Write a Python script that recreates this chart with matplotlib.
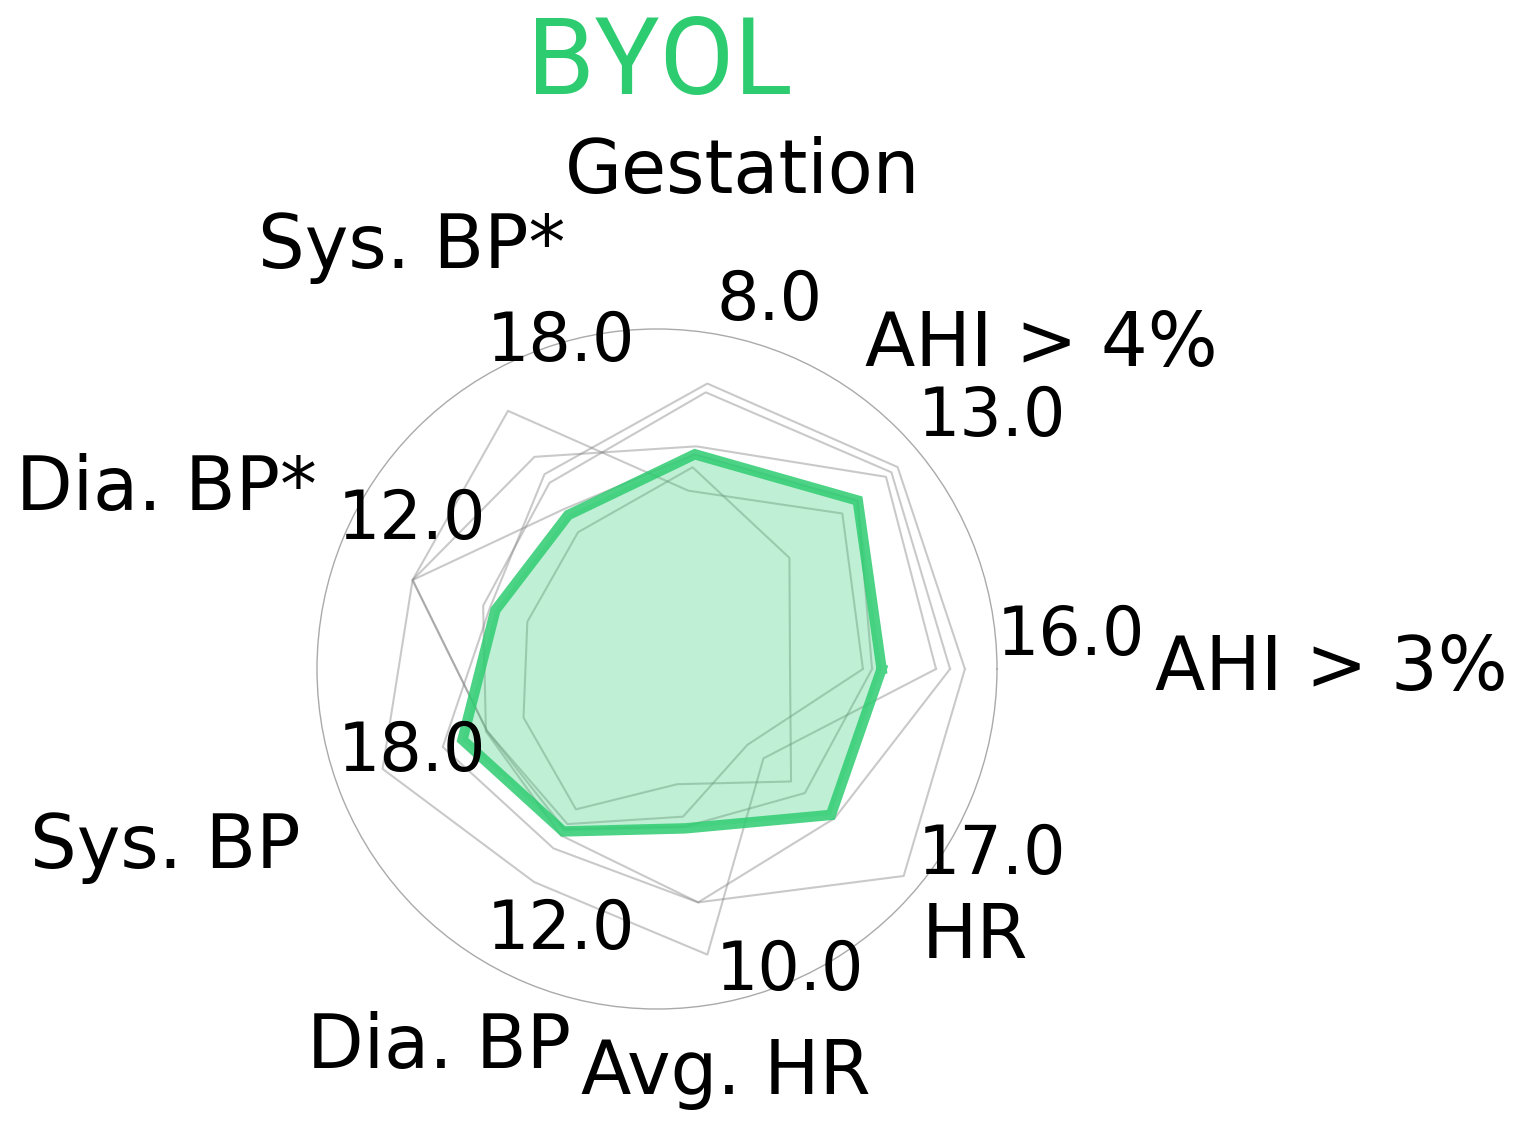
import numpy as np
import matplotlib
matplotlib.use("Agg")
import matplotlib.pyplot as plt

# ---------------- data ----------------
categories = ['AHI > 3%', 'AHI > 4%', 'Gestation', 'Sys. BP*', 'Dia. BP*',
              'Sys. BP', 'Dia. BP', 'Avg. HR', 'HR']
axis_max = [16.0, 13.0, 8.0, 18.0, 12.0, 18.0, 12.0, 10.0, 17.0]
tick_labels = ['16.0', '13.0', '8.0', '18.0', '12.0', '18.0', '12.0', '10.0', '17.0']

byol = [10.57, 10.02, 5.13, 9.41, 6.07, 10.96, 6.62, 4.76, 11.35]
other_a = [14.49, 12.01, 6.82, 11.91, 6.28, 12.07, 7.31, 6.97, 16.10]
other_b = [13.79, 11.70, 6.61, 11.38, 6.53, 9.64, 6.78, 6.97, 11.60]
other_c = [13.13, 11.43, 5.32, 12.97, 9.18, 15.46, 8.68, 8.53, 6.95]
other_d = [9.69, 9.25, 4.26, 15.78, 9.18, 9.58, 6.32, 4.41, 5.90]
other_e = [6.26, 6.61, 4.82, 8.36, 4.87, 7.52, 5.72, 3.44, 8.75]
other_f = [10.12, 10.02, 5.13, 9.79, 9.18, 9.58, 6.53, 4.71, 9.65]
others = [other_a, other_b, other_c, other_d, other_e, other_f]

title = 'BYOL'
green = '#2ecc71'

# ---------------- figure ----------------
W, H = 1523, 1125
fig = plt.figure(figsize=(W / 100, H / 100), dpi=100)
cx, cy, R = 657, 669, 340
ax = fig.add_axes([(cx - R) / W, 1 - (cy + R) / H, 2 * R / W, 2 * R / H],
                  projection='polar')

n = len(categories)
angles = np.deg2rad(np.arange(n) * 360.0 / n)
ang_closed = np.concatenate([angles, angles[:1]])
maxv = np.array(axis_max)


def norm(vals):
    v = np.array(vals) / maxv
    return np.concatenate([v, v[:1]])


for o in others:
    ax.plot(ang_closed, norm(o), color='gray', alpha=0.42, lw=1.5, zorder=2)

ax.fill(ang_closed, norm(byol), color=green, alpha=0.3, lw=0, zorder=3)
ax.plot(ang_closed, norm(byol), color=green, alpha=0.85, lw=7.5,
        solid_joinstyle='miter', zorder=4)

ax.set_ylim(0, 1)
ax.set_xticks([])
ax.set_yticks([])
ax.grid(False)
ax.spines['polar'].set_color('#aaaaaa')
ax.spines['polar'].set_linewidth(1.0)

# max-value tick labels at the outer circle
for a, t in zip(angles, tick_labels):
    ax.text(a, 1.0, t, ha='left', va='bottom', fontsize=48,
            family='DejaVu Sans', zorder=5)

# axis labels (pixel positions: centre x, baseline y)
label_pos = {
    'AHI > 3%': (1331, 690),
    'AHI > 4%': (1041, 366),
    'Gestation': (743, 193),
    'Sys. BP*': (412, 268),
    'Dia. BP*': (166, 510),
    'Sys. BP': (165, 868),
    'Dia. BP': (439, 1068),
    'Avg. HR': (726, 1094),
    'HR': (975, 958),
}
for c in categories:
    x, y = label_pos[c]
    fig.text(x / W, 1 - y / H, c, ha='center', va='baseline', fontsize=53,
             family='DejaVu Sans')

fig.text(660 / W, 1 - 94 / H, title, ha='center', va='baseline',
         fontsize=78, color=green, family=['Roboto', 'DejaVu Sans'])

fig.savefig('out.png', dpi=100)
